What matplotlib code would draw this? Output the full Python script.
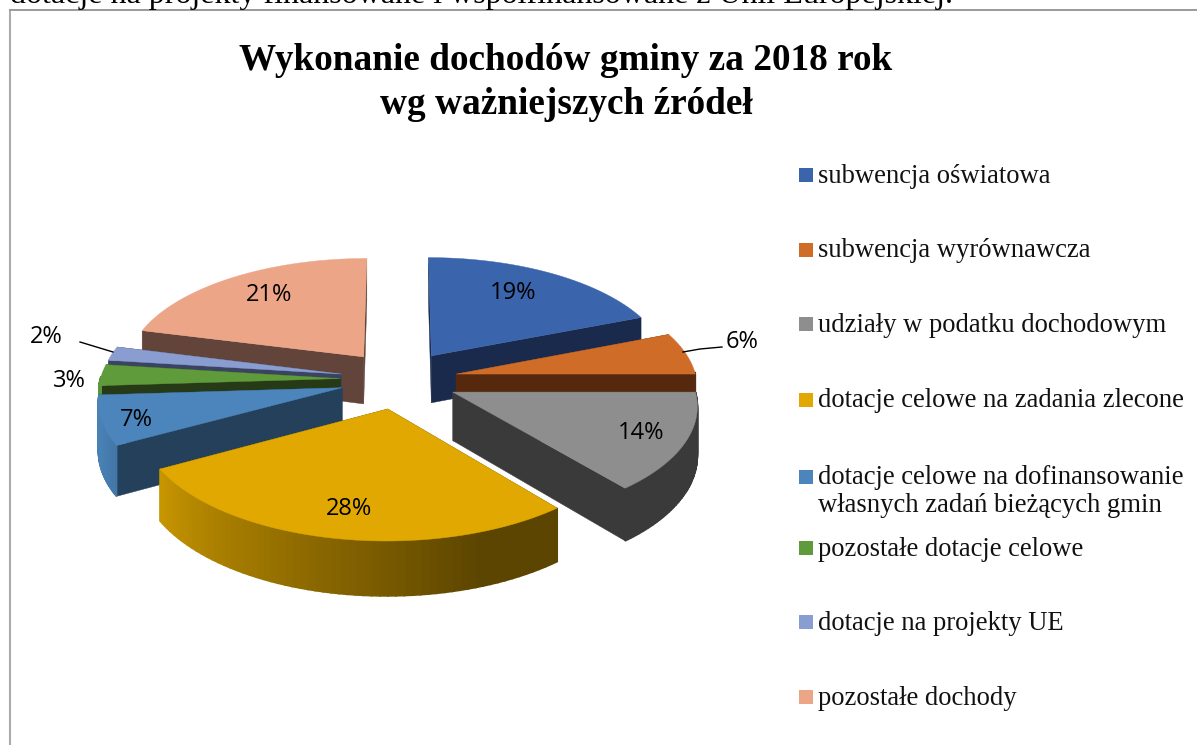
import numpy as np
import matplotlib
matplotlib.use("Agg")
import matplotlib.pyplot as plt
from matplotlib.colors import to_rgb

categories = [
    "subwencja oświatowa",
    "subwencja wyrównawcza",
    "udziały w podatku dochodowym",
    "dotacje celowe na zadania zlecone",
    "dotacje celowe na dofinansowanie\nwłasnych zadań bieżących gmin",
    "pozostałe dotacje celowe",
    "dotacje na projekty UE",
    "pozostałe dochody",
]
values = [19, 6, 14, 28, 7, 3, 2, 21]
top_colors = ["#3A64AB", "#CE6C28", "#8E8E8E", "#E0A800", "#4B85BB", "#5F9A3B", "#8A9DD0", "#ECA587"]
wall_colors = ["#1A2A4D", "#56290F", "#3A3A3A", "#5C4300", "#24405A", "#263A17", "#3B4363", "#62443A"]

# pie geometry in pixels
CX, CY = 399, 379.5
RX, RY = 240, 112.5
PERSP = 0.1
EXPLODE_U, EXPLODE_V = 0.245, 0.26
DEPTH = 48

label_pos = [(513, 293), (742, 342), (641, 433), (349, 509), (136, 420), (69, 381), (46, 337), (269, 295)]
legend_y = [183, 257, 332, 407, 512, 556, 630, 705]
legend_sq_y = [175, 250, 324, 400, 477, 548, 622, 697]

SERIF = "Liberation Serif"
LABEL_FONT = "Open Sans"


def project(u, v, z=0.0):
    s = 1 / (1 - PERSP * v)
    return CX + RX * u * s, CY + RY * v * s + z * DEPTH * s


def shade(theta):
    # outer wall gets lighter towards the left of the pie
    return np.interp(theta, [0, 160, 241, 255, 290], [0.41, 0.41, 0.89, 0.97, 0.97])


def draw_slice(ax, start, end, top, wall):
    mid = (start + end) / 2
    du, dv = EXPLODE_U * np.sin(mid), -EXPLODE_V * np.cos(mid)
    thetas = np.linspace(start, end, 60)
    us = du + np.sin(thetas)
    vs = dv - np.cos(thetas)

    # radial walls
    for theta in (start, end):
        u1, v1 = du + np.sin(theta), dv - np.cos(theta)
        quad = [project(du, dv), project(u1, v1), project(u1, v1, 1), project(du, dv, 1)]
        ax.fill(*zip(*quad), color=wall, lw=0.3, zorder=ax.zcount)
        ax.zcount += 1

    # outer wall, one small quad per step so the shading changes along the arc
    rgb = np.array(to_rgb(top))
    for i in range(len(thetas) - 1):
        if np.cos(thetas[i]) > 0.02:
            continue
        quad = [project(us[i], vs[i]), project(us[i + 1], vs[i + 1]),
                project(us[i + 1], vs[i + 1], 1), project(us[i], vs[i], 1)]
        deg = np.degrees((thetas[i] + thetas[i + 1]) / 2)
        ax.fill(*zip(*quad), color=tuple(rgb * shade(deg)), lw=1.2, zorder=ax.zcount)
    ax.zcount += 1

    # top face
    px, py = project(np.r_[du, us], np.r_[dv, vs])
    ax.fill(px, py, color=top, lw=0.3, zorder=ax.zcount)
    ax.zcount += 1


fig = plt.figure(figsize=(11.97, 7.45), dpi=100)
ax = fig.add_axes([0, 0, 1, 1])
ax.set_xlim(0, 1197)
ax.set_ylim(745, 0)
ax.axis("off")
ax.zcount = 2

edges = np.cumsum([0] + values) / sum(values) * 2 * np.pi
mids = (edges[:-1] + edges[1:]) / 2

# back slices first
for i in np.argsort(-np.cos(mids)):
    draw_slice(ax, edges[i], edges[i + 1], top_colors[i], wall_colors[i])

for val, (x, y) in zip(values, label_pos):
    ax.text(x, y, f"{val}%", ha="center", va="center", fontsize=17,
            family=LABEL_FONT, color="black", zorder=500)

# leader lines for the small slices
ax.plot([80, 113], [342, 352], color="black", lw=1, zorder=500)
ax.plot([683, 700, 722], [352, 349, 347], color="black", lw=1, zorder=500)

# chart frame
ax.plot([10, 10], [745, 9.5], color="#ABABAB", lw=1.5, zorder=1)
ax.plot([10, 1197], [9.5, 9.5], color="#9A9A9A", lw=1.4, zorder=1)

ax.text(10, 3, "dotacje na projekty finansowane i współfinansowane z Unii Europejskiej.",
        fontsize=23, family=SERIF, va="baseline", ha="left", color="black")

ax.text(566, 69.5, "Wykonanie dochodów gminy za 2018 rok", fontsize=26.8, family=SERIF,
        weight="bold", ha="center", va="baseline")
ax.text(566, 113.5, "wg ważniejszych źródeł", fontsize=26.8, family=SERIF,
        weight="bold", ha="center", va="baseline")

for name, color, y, sq_y in zip(categories, top_colors, legend_y, legend_sq_y):
    ax.fill([799, 813, 813, 799], [sq_y - 7, sq_y - 7, sq_y + 7, sq_y + 7], color=color, lw=0)
    ax.text(818, y, name, fontsize=19.2, family=SERIF, va="baseline", ha="left",
            color="#111111", linespacing=1.18)

fig.savefig("out.png", dpi=100)
plt.close(fig)
